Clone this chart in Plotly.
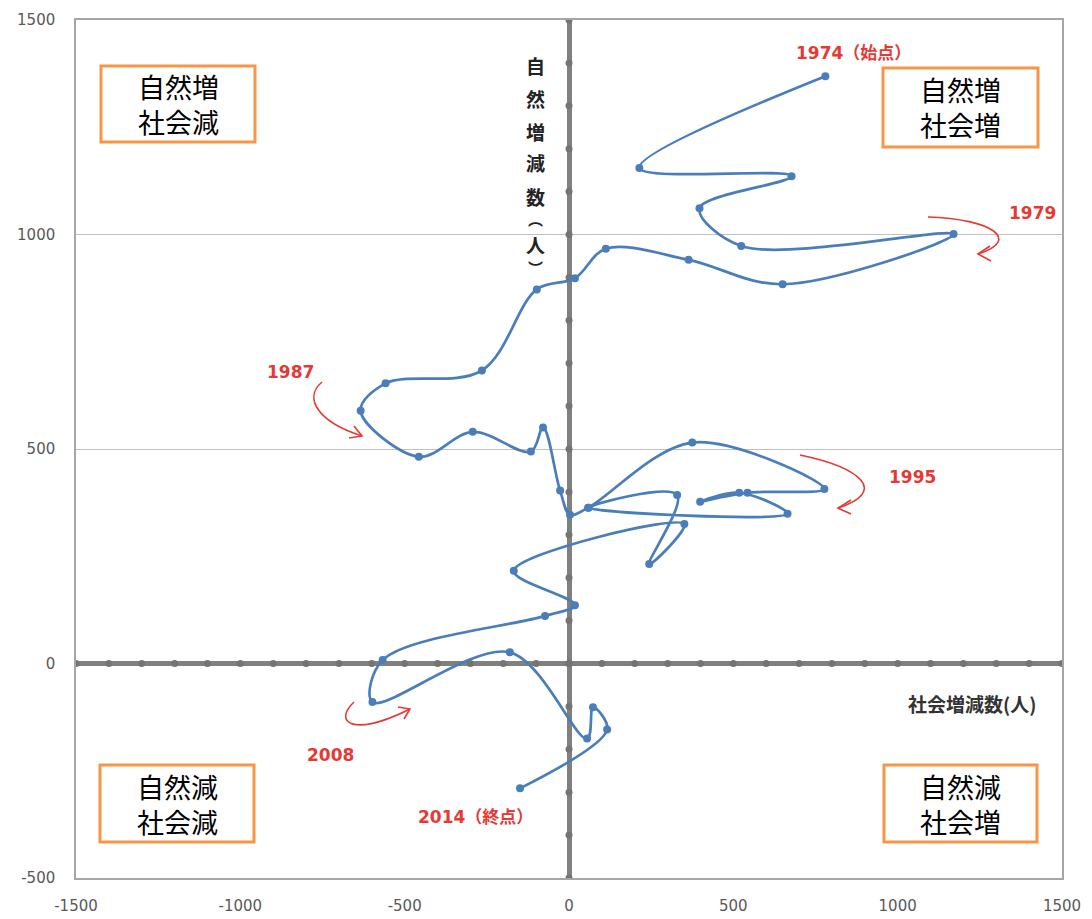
import plotly.graph_objects as go
import numpy as np

# ---- data ----
years = list(range(1974, 2015))
social_change = [780, 214, 677, 397, 524, 1170, 650, 364, 112, 18,
                 -98, -265, -558, -634, -457, -293, -116, -79, -27, 3,
                 58, 375, 777, 543, 399, 518, 665, 60, 329, 244,
                 351, -168, 18, -73, -567, -598, -180, 55, 73, 116, -149]
natural_change = [1369, 1155, 1136, 1061, 973, 1001, 884, 941, 967, 898,
                  872, 683, 653, 589, 482, 540, 494, 550, 403, 347,
                  363, 515, 407, 398, 377, 398, 349, 363, 393, 232,
                  325, 216, 136, 111, 8, -90, 26, -175, -102, -154, -291]

x_tick_vals = [-1500, -1000, -500, 0, 500, 1000, 1500]
x_tick_text = ["-1500", "-1000", "-500", "0", "500", "1000", "1500"]
y_tick_vals = [-500, 0, 500, 1000, 1500]
y_tick_text = ["-500", "0", "500", "1000", "1500"]

quadrant_labels = [("自然増", "社会減"), ("自然増", "社会増"),
                   ("自然減", "社会減"), ("自然減", "社会増")]
year_labels = ["1974（始点）", "1979", "1987", "1995", "2008", "2014（終点）"]
x_title = "社会増減数(人)"
y_title_chars = ["自", "然", "増", "減", "数", "︵", "人", "︶"]

# ---- layout geometry (pixels) ----
W, H = 1092, 919
PL, PR, PT, PB = 76, 1062, 20, 878


def px(x):
    return (x - PL) / (PR - PL)


def py(y):
    return (PB - y) / (PB - PT)


def P(x, y):
    return f"{px(x):.4f},{py(y):.4f}"


LINE_BLUE = "#4A7EBB"
AXIS_GRAY = "#808080"
RED = "#E53935"
ORANGE = "#F79646"

fig = go.Figure()

# axis tick dots along the zero lines
xd = np.arange(-1500, 1501, 100)
yd = np.arange(-500, 1501, 100)
fig.add_trace(go.Scatter(x=xd, y=np.zeros_like(xd), mode="markers",
                         marker=dict(size=7, color="#747474", symbol="circle"),
                         hoverinfo="skip", showlegend=False))
fig.add_trace(go.Scatter(x=np.zeros_like(yd), y=yd, mode="markers",
                         marker=dict(size=7, color="#747474", symbol="circle"),
                         hoverinfo="skip", showlegend=False))

# main trajectory
fig.add_trace(go.Scatter(x=social_change, y=natural_change, text=years,
                         mode="lines+markers",
                         line=dict(color=LINE_BLUE, width=2.7, shape="spline", smoothing=1.0),
                         marker=dict(size=8, color=LINE_BLUE),
                         showlegend=False))

shapes = []
annotations = []

# quadrant boxes
boxes = [(101, 66, 255, 142), (883, 68, 1038, 147),
         (100, 765, 254, 842), (884, 765, 1037, 842)]
for (x0, y0, x1, y1), (l1, l2) in zip(boxes, quadrant_labels):
    shapes.append(dict(type="rect", xref="paper", yref="paper",
                       x0=px(x0), x1=px(x1), y0=py(y1), y1=py(y0),
                       line=dict(color=ORANGE, width=3), fillcolor="white",
                       layer="above"))
    cx = (x0 + x1) / 2
    cy = (y0 + y1) / 2
    annotations.append(dict(text=f"{l1}<br>{l2}", xref="paper", yref="paper",
                            x=px(cx), y=py(cy), xanchor="center", yanchor="middle",
                            showarrow=False, align="center",
                            font=dict(family="Noto Sans CJK JP", size=27, color="black")))

# red year labels
label_pos = [(853, 53), (1032, 213), (290, 372), (912, 477), (330, 755), (475, 817)]
for txt, (lx, ly) in zip(year_labels, label_pos):
    annotations.append(dict(text=f"<b>{txt}</b>", xref="paper", yref="paper",
                            x=px(lx), y=py(ly), xanchor="center", yanchor="middle",
                            showarrow=False,
                            font=dict(family="DejaVu Sans, Noto Sans CJK JP", size=17, color=RED)))

# curved red arrows
arrow_paths = [
    (f"M {P(928,217)} C {P(992,219)} {P(1022,240)} {P(978,254)}",
     f"M {P(990,246)} L {P(978,254)} L {P(991,261)}"),
    (f"M {P(322,382)} C {P(303,398)} {P(318,422)} {P(362,436)}",
     f"M {P(349,438)} L {P(362,436)} L {P(354,426)}"),
    (f"M {P(800,455)} C {P(862,468)} {P(888,492)} {P(838,508)}",
     f"M {P(851,500)} L {P(838,508)} L {P(851,514)}"),
    (f"M {P(354,702)} C {P(333,722)} {P(352,738)} {P(410,709)}",
     f"M {P(398,707)} L {P(410,709)} L {P(404,719)}"),
]
for curve, head in arrow_paths:
    for pth in (curve, head):
        shapes.append(dict(type="path", xref="paper", yref="paper", path=pth,
                           line=dict(color=RED, width=1.6), layer="above"))

# x axis title
annotations.append(dict(text=f"<b>{x_title}</b>", xref="paper", yref="paper",
                        x=px(972), y=py(703), xanchor="center", yanchor="middle",
                        showarrow=False,
                        font=dict(family="Noto Sans CJK JP", size=19, color="#333333")))
# vertical y axis title
y_char_pos = [66, 98, 131, 163, 196, 219, 244, 267]
y_char_size = [19, 19, 19, 19, 19, 15, 19, 15]
for ch, cy, sz in zip(y_title_chars, y_char_pos, y_char_size):
    annotations.append(dict(text=f"<b>{ch}</b>", xref="paper", yref="paper",
                            x=px(535), y=py(cy), xanchor="center", yanchor="middle",
                            showarrow=False,
                            font=dict(family="Noto Sans CJK JP", size=sz, color="#222222")))

fig.update_layout(
    width=W, height=H,
    margin=dict(l=PL, r=W - PR, t=PT, b=H - PB, autoexpand=False),
    paper_bgcolor="white", plot_bgcolor="white",
    shapes=shapes, annotations=annotations,
    showlegend=False,
)
fig.update_xaxes(range=[-1500, 1500], tickvals=x_tick_vals, ticktext=x_tick_text,
                 showgrid=False, zeroline=True, zerolinecolor=AXIS_GRAY, zerolinewidth=5,
                 showline=True, linecolor="#A6A6A6", linewidth=1.5, mirror=True,
                 ticks="", ticklabelstandoff=13, automargin=False,
                 tickfont=dict(family="DejaVu Sans", size=15, color="#595959"))
fig.update_yaxes(range=[-500, 1500], tickvals=y_tick_vals, ticktext=y_tick_text,
                 showgrid=True, gridcolor="#C0C0C0", gridwidth=1,
                 zeroline=True, zerolinecolor=AXIS_GRAY, zerolinewidth=5,
                 showline=True, linecolor="#A6A6A6", linewidth=1.5, mirror=True,
                 ticks="", ticklabelstandoff=16, automargin=False,
                 tickfont=dict(family="DejaVu Sans", size=15, color="#595959"))

fig.write_html("out.html", config={"displayModeBar": False},
               post_script="document.body.style.margin='0';")
